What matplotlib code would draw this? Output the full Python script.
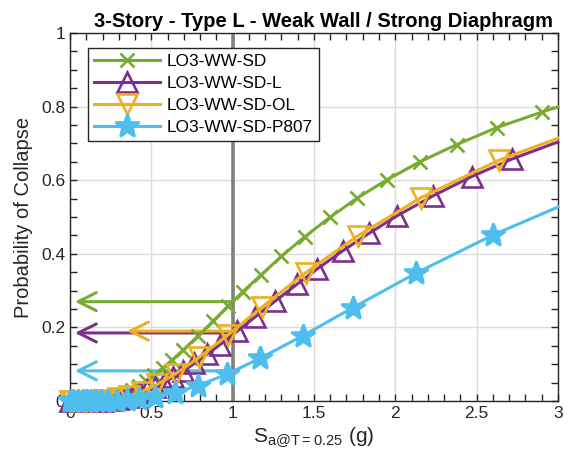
import matplotlib
import matplotlib.pyplot as plt

matplotlib.use("Agg")
plt.rcParams["font.family"] = ["Liberation Sans", "DejaVu Sans"]
plt.rcParams["mathtext.fontset"] = "custom"
plt.rcParams["mathtext.rm"] = "Liberation Sans"

# --- data ------------------------------------------------------------------
sd_x = [0.0, 0.05, 0.1, 0.15, 0.2, 0.25, 0.3, 0.345, 0.382, 0.422, 0.466, 0.515,
        0.569, 0.629, 0.695, 0.787, 0.879, 0.971, 1.063, 1.175, 1.30, 1.445,
        1.598, 1.764, 1.948, 2.151, 2.378, 2.624, 2.90, 3.0]
sd_y = [0.0, 0.0, 0.0, 0.001, 0.003, 0.008, 0.015, 0.023, 0.031, 0.041, 0.054, 0.070,
        0.089, 0.112, 0.138, 0.177, 0.217, 0.258, 0.297, 0.343, 0.393, 0.447,
        0.499, 0.551, 0.601, 0.650, 0.697, 0.743, 0.785, 0.799]

l_x = [0.0, 0.05, 0.1, 0.15, 0.2, 0.25, 0.295, 0.324, 0.357, 0.392, 0.432, 0.475,
       0.522, 0.575, 0.632, 0.695, 0.765, 0.842, 0.922, 1.026, 1.137, 1.26,
       1.395, 1.52, 1.68, 1.84, 2.01, 2.23, 2.47, 2.72, 3.0]
l_y = [0.0, 0.0, 0.0, 0.0, 0.001, 0.003, 0.006, 0.008, 0.011, 0.016, 0.022, 0.029,
       0.038, 0.050, 0.064, 0.081, 0.102, 0.127, 0.153, 0.189, 0.228, 0.271,
       0.317, 0.359, 0.409, 0.456, 0.503, 0.557, 0.610, 0.658, 0.704]

ol_x = [0.0, 0.02, 0.05, 0.08, 0.1, 0.13, 0.16, 0.2, 0.24, 0.295, 0.36, 0.44,
        0.535, 0.65, 0.795, 0.97, 1.18, 1.45, 1.77, 2.16, 2.64, 3.0]
ol_y = [0.0, 0.0, 0.0, 0.0, 0.0, 0.0, 0.0, 0.001, 0.003, 0.007, 0.013, 0.025,
        0.045, 0.074, 0.119, 0.179, 0.255, 0.349, 0.449, 0.553, 0.655, 0.714]

p807_x = [0.0, 0.02, 0.05, 0.08, 0.106, 0.129, 0.158, 0.192, 0.235, 0.286, 0.349,
          0.426, 0.52, 0.645, 0.787, 0.965, 1.168, 1.43, 1.74, 2.13, 2.6, 3.0]
p807_y = [0.0, 0.0, 0.0, 0.0, 0.0, 0.0, 0.0, 0.0, 0.0, 0.001, 0.002,
          0.005, 0.011, 0.023, 0.042, 0.073, 0.116, 0.177, 0.254, 0.348, 0.451, 0.527]

# probability of collapse at Sa = 1 g, and where each arrow ends
sa_ref = 1.0
p_at_ref = [0.27, 0.185, 0.19, 0.082]
arrow_end = [0.03, 0.03, 0.35, 0.03]

labels = ["LO3-WW-SD", "LO3-WW-SD-L", "LO3-WW-SD-OL", "LO3-WW-SD-P807"]
colors = ["#77AC30", "#7E2F8E", "#EDB120", "#4DBEEE"]

xticks = [0, 0.5, 1, 1.5, 2, 2.5, 3]
xticklabels = ["0", "0.5", "1", "1.5", "2", "2.5", "3"]
yticks = [0, 0.2, 0.4, 0.6, 0.8, 1]
yticklabels = ["0", "0.2", "0.4", "0.6", "0.8", "1"]

fig = plt.figure(figsize=(5.71, 4.72), dpi=100)
ax = fig.add_axes([0.1226, 0.1504, 0.8544, 0.7796])

ax.axvline(sa_ref, color="#808080", lw=2.6, zorder=1.5)

series = [
    (sd_x, sd_y, "x", 10, "none"),
    (l_x, l_y, "^", 14, "none"),
    (ol_x, ol_y, "v", 14, "none"),
    (p807_x, p807_y, "*", 18, None),
]
for (xs, ys, mk, ms, fc), lab, col in zip(series, labels, colors):
    ax.plot(xs, ys, "-", color=col, lw=2.2, marker=mk, markersize=ms,
            markeredgewidth=1.9, markerfacecolor=col if fc is None else fc,
            markevery=list(range(len(xs) - 1)), label=lab, clip_on=False, zorder=3)

for y, x0, col in zip(p_at_ref, arrow_end, colors):
    ax.annotate("", xy=(x0, y), xytext=(sa_ref, y),
                arrowprops=dict(arrowstyle="->,head_length=1.3,head_width=0.65",
                                color=col, lw=2.2, shrinkA=0, shrinkB=0),
                zorder=2.5)

ax.set_xlim(0, 3)
ax.set_ylim(0, 1)
ax.set_xticks(xticks, xticklabels)
ax.set_yticks(yticks, yticklabels)
ax.set_xticks([i / 10 for i in range(31)], minor=True)
ax.set_yticks([i / 20 for i in range(21)], minor=True)
ax.tick_params(which="both", direction="in", top=True, right=True, length=5,
               width=1, colors="#262626", labelsize=12.5)
ax.grid(True, which="major", color="#dcdcdc", lw=1)
ax.set_axisbelow(True)
for s in ax.spines.values():
    s.set_color("#262626")
    s.set_linewidth(1)

ax.set_xlabel(r"S$_{\mathrm{a@T=0.25}}$ (g)", fontsize=15, color="#262626", labelpad=3)
ax.set_ylabel("Probability of Collapse", fontsize=14.5, color="#262626", labelpad=6)
ax.set_title("3-Story - Type L - Weak Wall / Strong Diaphragm", fontsize=14.5,
             fontweight="bold", pad=4, x=0.52)

leg = ax.legend(loc="upper left", bbox_to_anchor=(0.037, 0.96), borderaxespad=0,
                fontsize=12.4, handlelength=3.8, handletextpad=0.4,
                labelspacing=0.4, borderpad=0.35,
                fancybox=False, framealpha=1, edgecolor="#262626")
leg.get_frame().set_linewidth(1)

fig.savefig("out.png", dpi=100)
